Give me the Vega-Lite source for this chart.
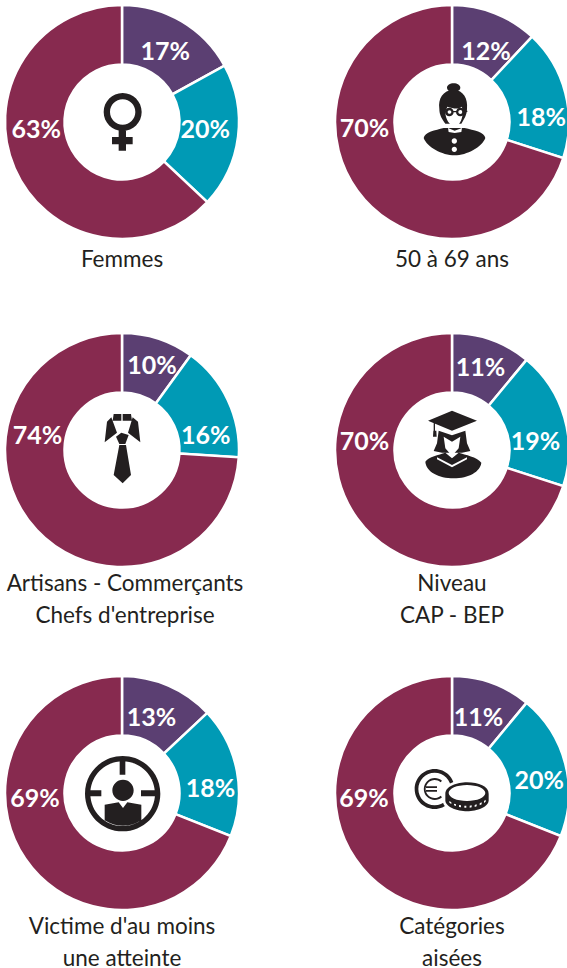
{"$schema":"https://vega.github.io/schema/vega-lite/v6.json","background":"white","padding":{"left":0,"top":-15,"right":0,"bottom":12},"spacing":28,"config":{"view":{"stroke":null},"title":{"font":"Lato","fontSize":22.5,"fontWeight":"normal","color":"#231f20","orient":"bottom","anchor":"middle","lineHeight":32,"offset":1,"baseline":"top"},"text":{"font":"Lato","fontSize":25,"fontWeight":"bold","color":"white","fill":"white","baseline":"middle"},"point":{"filled":true,"size":0.4444,"opacity":1,"strokeWidth":0}},"vconcat":[
{"spacing":9,"vconcat":[
{"bounds":"flush","spacing":98,"hconcat":[
{"width":232,"height":232,"title":{"text":"Femmes","offset":5},"data":{"values":[{"part":"A","ordre":1,"valeur":17,"etiquette":"17%"},{"part":"B","ordre":2,"valeur":20,"etiquette":"20%"},{"part":"C","ordre":3,"valeur":63,"etiquette":"63%"}]},"layer":[
{"mark":{"type":"arc","outerRadius":117,"innerRadius":57.5,"stroke":"white","strokeWidth":2.5},"encoding":{"theta":{"field":"valeur","type":"quantitative","stack":true},"order":{"field":"ordre"},"color":{"field":"part","type":"nominal","scale":{"domain":["A","B","C"],"range":["#5b3f72","#009ab5","#872a4f"]},"legend":null}}},
{"mark":{"type":"text","dx":-1,"dy":5},"encoding":{"theta":{"field":"valeur","type":"quantitative","stack":true},"radius":{"value":87},"order":{"field":"ordre"},"detail":{"field":"part"},"text":{"condition":{"test":"datum.part==='A'","field":"etiquette"},"value":""}}},
{"mark":{"type":"text","dx":-3,"dy":-3},"encoding":{"theta":{"field":"valeur","type":"quantitative","stack":true},"radius":{"value":87},"order":{"field":"ordre"},"detail":{"field":"part"},"text":{"condition":{"test":"datum.part==='B'","field":"etiquette"},"value":""}}},
{"mark":{"type":"text","dx":-6,"dy":-27},"encoding":{"theta":{"field":"valeur","type":"quantitative","stack":true},"radius":{"value":87},"order":{"field":"ordre"},"detail":{"field":"part"},"text":{"condition":{"test":"datum.part==='C'","field":"etiquette"},"value":""}}},
{"data":{"values":[{"icone":"femme"}]},"mark":{"type":"point","fill":"#231f20","shape":"M2,-87 A57,57 0 1 1 2,27 A57,57 0 1 1 2,-87 Z M2,-68 A38,38 0 1 0 2,8 A38,38 0 1 0 2,-68 Z M-10,20 H12 V45 H32 V67 H12 V86 H-10 V67 H-30 V45 H-10 Z"},"encoding":{}}
]},
{"width":232,"height":232,"title":{"text":"50 à 69 ans","offset":5},"data":{"values":[{"part":"A","ordre":1,"valeur":12,"etiquette":"12%"},{"part":"B","ordre":2,"valeur":18,"etiquette":"18%"},{"part":"C","ordre":3,"valeur":70,"etiquette":"70%"}]},"layer":[
{"mark":{"type":"arc","outerRadius":117,"innerRadius":57.5,"stroke":"white","strokeWidth":2.5},"encoding":{"theta":{"field":"valeur","type":"quantitative","stack":true},"order":{"field":"ordre"},"color":{"field":"part","type":"nominal","scale":{"domain":["A","B","C"],"range":["#5b3f72","#009ab5","#872a4f"]},"legend":null}}},
{"mark":{"type":"text","dx":2,"dy":11},"encoding":{"theta":{"field":"valeur","type":"quantitative","stack":true},"radius":{"value":87},"order":{"field":"ordre"},"detail":{"field":"part"},"text":{"condition":{"test":"datum.part==='A'","field":"etiquette"},"value":""}}},
{"mark":{"type":"text","dx":5,"dy":18},"encoding":{"theta":{"field":"valeur","type":"quantitative","stack":true},"radius":{"value":87},"order":{"field":"ordre"},"detail":{"field":"part"},"text":{"condition":{"test":"datum.part==='B'","field":"etiquette"},"value":""}}},
{"mark":{"type":"text","dx":-17,"dy":-44},"encoding":{"theta":{"field":"valeur","type":"quantitative","stack":true},"radius":{"value":87},"order":{"field":"ordre"},"detail":{"field":"part"},"text":{"condition":{"test":"datum.part==='C'","field":"etiquette"},"value":""}}},
{"data":{"values":[{"icone":"noir"}]},"mark":{"type":"point","fill":"#231f20","shape":"M-15,-103 A20,13 0 1 1 25,-103 A20,13 0 1 1 -15,-103 Z M-38,-40 C-42,-70 -28,-95 5,-97 C35,-95 48,-70 45,-40 C45,-20 35,-8 28,5 L-20,5 C-30,-10 -38,-20 -38,-40 Z M-85,48 C-82,30 -50,25 -25,18 L38,18 C65,25 98,30 100,48 C90,75 45,100 8,100 C-30,100 -75,75 -85,48 Z"},"encoding":{}},
{"data":{"values":[{"icone":"blanc"}]},"mark":{"type":"point","fill":"white","shape":"M-20,-30 L-14,-46 C5,-40 20,-38 30,-46 L32,-25 C30,-5 22,10 8,16 C-8,10 -20,-10 -20,-30 Z M-12,18 L8,26 L30,18 L28,30 L8,33 L-10,30 Z M-1,57 A8,8 0 1 1 15,57 A8,8 0 1 1 -1,57 Z M-1,82 A8,8 0 1 1 15,82 A8,8 0 1 1 -1,82 Z"},"encoding":{}},
{"data":{"values":[{"icone":"lunettes"}]},"mark":{"type":"point","fill":"#231f20","shape":"M-21,-30 A13,13 0 1 1 5,-30 A13,13 0 1 1 -21,-30 Z M-13,-30 A5.5,5.5 0 0 0 -2,-30 A5.5,5.5 0 0 0 -13,-30 Z M12,-30 A13,13 0 1 1 38,-30 A13,13 0 1 1 12,-30 Z M19,-30 A6,6 0 0 0 31,-30 A6,6 0 0 0 19,-30 Z M3,-33 H14 V-29 H3 Z M-30,-34 H-20 V-30 H-30 Z M36,-34 H46 V-30 H36 Z"},"encoding":{}}
]}
]},
{"bounds":"flush","spacing":98,"hconcat":[
{"width":232,"height":232,"title":{"text":["Artisans - Commerçants","Chefs d'entreprise"],"dx":3},"data":{"values":[{"part":"A","ordre":1,"valeur":10,"etiquette":"10%"},{"part":"B","ordre":2,"valeur":16,"etiquette":"16%"},{"part":"C","ordre":3,"valeur":74,"etiquette":"74%"}]},"layer":[
{"mark":{"type":"arc","outerRadius":117,"innerRadius":57.5,"stroke":"white","strokeWidth":2.5},"encoding":{"theta":{"field":"valeur","type":"quantitative","stack":true},"order":{"field":"ordre"},"color":{"field":"part","type":"nominal","scale":{"domain":["A","B","C"],"range":["#5b3f72","#009ab5","#872a4f"]},"legend":null}}},
{"mark":{"type":"text","dx":3,"dy":-1},"encoding":{"theta":{"field":"valeur","type":"quantitative","stack":true},"radius":{"value":87},"order":{"field":"ordre"},"detail":{"field":"part"},"text":{"condition":{"test":"datum.part==='A'","field":"etiquette"},"value":""}}},
{"mark":{"type":"text","dx":5,"dy":23},"encoding":{"theta":{"field":"valeur","type":"quantitative","stack":true},"radius":{"value":87},"order":{"field":"ordre"},"detail":{"field":"part"},"text":{"condition":{"test":"datum.part==='B'","field":"etiquette"},"value":""}}},
{"mark":{"type":"text","dx":-21,"dy":-74},"encoding":{"theta":{"field":"valeur","type":"quantitative","stack":true},"radius":{"value":87},"order":{"field":"ordre"},"detail":{"field":"part"},"text":{"condition":{"test":"datum.part==='C'","field":"etiquette"},"value":""}}},
{"data":{"values":[{"icone":"cravate"}]},"mark":{"type":"point","fill":"#231f20","shape":"M-25,-108 H-2 V-88 H-28 Z M2,-108 H27 L30,-88 H2 Z M-32,-98 L-45,-85 L-52,-23 L-15,-52 Z M32,-98 L48,-85 L55,-23 L18,-52 Z M-2,-52 L20,-45 L10,-18 L-8,-18 L-18,-40 Z M-8,-15 L12,-15 L27,75 L2,100 L-25,75 Z"},"encoding":{}}
]},
{"width":232,"height":232,"title":{"text":["Niveau","CAP - BEP"]},"data":{"values":[{"part":"A","ordre":1,"valeur":11,"etiquette":"11%"},{"part":"B","ordre":2,"valeur":19,"etiquette":"19%"},{"part":"C","ordre":3,"valeur":70,"etiquette":"70%"}]},"layer":[
{"mark":{"type":"arc","outerRadius":117,"innerRadius":57.5,"stroke":"white","strokeWidth":2.5},"encoding":{"theta":{"field":"valeur","type":"quantitative","stack":true},"order":{"field":"ordre"},"color":{"field":"part","type":"nominal","scale":{"domain":["A","B","C"],"range":["#5b3f72","#009ab5","#872a4f"]},"legend":null}}},
{"mark":{"type":"text","dx":-1,"dy":0},"encoding":{"theta":{"field":"valeur","type":"quantitative","stack":true},"radius":{"value":87},"order":{"field":"ordre"},"detail":{"field":"part"},"text":{"condition":{"test":"datum.part==='A'","field":"etiquette"},"value":""}}},
{"mark":{"type":"text","dx":0,"dy":16},"encoding":{"theta":{"field":"valeur","type":"quantitative","stack":true},"radius":{"value":87},"order":{"field":"ordre"},"detail":{"field":"part"},"text":{"condition":{"test":"datum.part==='B'","field":"etiquette"},"value":""}}},
{"mark":{"type":"text","dx":-17,"dy":-59},"encoding":{"theta":{"field":"valeur","type":"quantitative","stack":true},"radius":{"value":87},"order":{"field":"ordre"},"detail":{"field":"part"},"text":{"condition":{"test":"datum.part==='C'","field":"etiquette"},"value":""}}},
{"data":{"values":[{"icone":"noir"}]},"mark":{"type":"point","fill":"#231f20","shape":"M-72,-88 L0,-118 L75,-88 L0,-58 Z M-55,-85 H-51 V-58 H-47 L-46,-40 H-57 L-56,-58 H-55 Z M-40,-58 L0,-44 L40,-58 L45,-20 L55,3 L30,8 L-30,8 L-55,3 L-45,-20 Z M-80,35 C-70,20 -40,15 -20,8 L0,25 L20,8 C40,15 75,20 88,38 C85,65 50,85 5,85 C-40,85 -78,65 -80,35 Z"},"encoding":{}},
{"data":{"values":[{"icone":"blanc"}]},"mark":{"type":"point","fill":"white","shape":"M-25,-40 L0,-25 L25,-40 L20,-5 L0,18 L-20,-5 Z M-45,22 L0,45 L45,22 L45,28 L0,52 L-45,28 Z"},"encoding":{}}
]}
]}
]},
{"bounds":"flush","spacing":98,"hconcat":[
{"width":232,"height":232,"title":{"text":["Victime d'au moins","une atteinte"]},"data":{"values":[{"part":"A","ordre":1,"valeur":13,"etiquette":"13%"},{"part":"B","ordre":2,"valeur":18,"etiquette":"18%"},{"part":"C","ordre":3,"valeur":69,"etiquette":"69%"}]},"layer":[
{"mark":{"type":"arc","outerRadius":117,"innerRadius":57.5,"stroke":"white","strokeWidth":2.5},"encoding":{"theta":{"field":"valeur","type":"quantitative","stack":true},"order":{"field":"ordre"},"color":{"field":"part","type":"nominal","scale":{"domain":["A","B","C"],"range":["#5b3f72","#009ab5","#872a4f"]},"legend":null}}},
{"mark":{"type":"text","dx":-5,"dy":5},"encoding":{"theta":{"field":"valeur","type":"quantitative","stack":true},"radius":{"value":87},"order":{"field":"ordre"},"detail":{"field":"part"},"text":{"condition":{"test":"datum.part==='A'","field":"etiquette"},"value":""}}},
{"mark":{"type":"text","dx":3,"dy":12},"encoding":{"theta":{"field":"valeur","type":"quantitative","stack":true},"radius":{"value":87},"order":{"field":"ordre"},"detail":{"field":"part"},"text":{"condition":{"test":"datum.part==='B'","field":"etiquette"},"value":""}}},
{"mark":{"type":"text","dx":-15,"dy":-43},"encoding":{"theta":{"field":"valeur","type":"quantitative","stack":true},"radius":{"value":87},"order":{"field":"ordre"},"detail":{"field":"part"},"text":{"condition":{"test":"datum.part==='C'","field":"etiquette"},"value":""}}},
{"data":{"values":[{"icone":"cible"}]},"mark":{"type":"point","fill":"#231f20","shape":"M2,-111 A113,113 0 1 1 2,115 A113,113 0 1 1 2,-111 Z M2,-95 A97,97 0 1 0 2,99 A97,97 0 1 0 2,-95 Z M-7,-100 H10 V-55 H-7 Z M-100,-8 H-62 V10 H-100 Z M57,-8 H105 V10 H57 Z M-29,-8 A32,32 0 1 1 35,-8 A32,32 0 1 1 -29,-8 Z M-52,35 L-10,28 L3,45 L16,28 L58,35 L58,82 Q3,115 -52,82 Z"},"encoding":{}}
]},
{"width":232,"height":232,"title":{"text":["Catégories","aisées"]},"data":{"values":[{"part":"A","ordre":1,"valeur":11,"etiquette":"11%"},{"part":"B","ordre":2,"valeur":20,"etiquette":"20%"},{"part":"C","ordre":3,"valeur":69,"etiquette":"69%"}]},"layer":[
{"mark":{"type":"arc","outerRadius":117,"innerRadius":57.5,"stroke":"white","strokeWidth":2.5},"encoding":{"theta":{"field":"valeur","type":"quantitative","stack":true},"order":{"field":"ordre"},"color":{"field":"part","type":"nominal","scale":{"domain":["A","B","C"],"range":["#5b3f72","#009ab5","#872a4f"]},"legend":null}}},
{"mark":{"type":"text","dx":-3,"dy":7},"encoding":{"theta":{"field":"valeur","type":"quantitative","stack":true},"radius":{"value":87},"order":{"field":"ordre"},"detail":{"field":"part"},"text":{"condition":{"test":"datum.part==='A'","field":"etiquette"},"value":""}}},
{"mark":{"type":"text","dx":3,"dy":10},"encoding":{"theta":{"field":"valeur","type":"quantitative","stack":true},"radius":{"value":87},"order":{"field":"ordre"},"detail":{"field":"part"},"text":{"condition":{"test":"datum.part==='B'","field":"etiquette"},"value":""}}},
{"mark":{"type":"text","dx":-16,"dy":-43},"encoding":{"theta":{"field":"valeur","type":"quantitative","stack":true},"radius":{"value":87},"order":{"field":"ordre"},"detail":{"field":"part"},"text":{"condition":{"test":"datum.part==='C'","field":"etiquette"},"value":""}}},
{"data":{"values":[{"icone":"piece1"}]},"mark":{"type":"point","fill":"#231f20","shape":"M-52,-72 A60,60 0 1 1 -52,48 A60,60 0 1 1 -52,-72 Z M-52,-61 A49,49 0 1 0 -52,37 A49,49 0 1 0 -52,-61 Z M-30,-37 A33,33 0 1 0 -30,13 L-34,8 A27,27 0 1 1 -34,-32 Z M-78,-20 H-45 V-15 H-78 Z M-78,-9 H-45 V-4 H-78 Z"},"encoding":{}},
{"data":{"values":[{"icone":"masque"}]},"mark":{"type":"point","fill":"white","shape":"M-28,0 C-28,-25 10,-40 45,-40 C85,-40 118,-25 118,0 L118,22 C118,48 80,63 45,63 C10,63 -28,48 -28,22 Z"},"encoding":{}},
{"data":{"values":[{"icone":"piece2"}]},"mark":{"type":"point","fill":"#231f20","shape":"M-20,2 C-20,-20 15,-32 45,-32 C80,-32 110,-20 110,2 L110,22 C110,42 75,55 45,55 C15,55 -20,42 -20,22 Z"},"encoding":{}},
{"data":{"values":[{"icone":"detail"}]},"mark":{"type":"point","fill":"white","shape":"M-10,0 A55,24 0 1 1 100,0 A55,24 0 1 1 -10,0 Z M-8,24 L-2,28 L-2,33 L-8,29 Z M6,32 L12,34 L12,39 L6,37 Z M21,36 L27,37 L27,43 L21,42 Z M37,38 L43,38 L43,44 L37,44 Z M53,38 L59,37 L59,43 L53,44 Z M68,36 L74,34 L74,40 L68,42 Z M83,31 L89,28 L89,34 L83,37 Z M96,24 L101,20 L101,26 L96,30 Z"},"encoding":{}}
]}
]}
]}
